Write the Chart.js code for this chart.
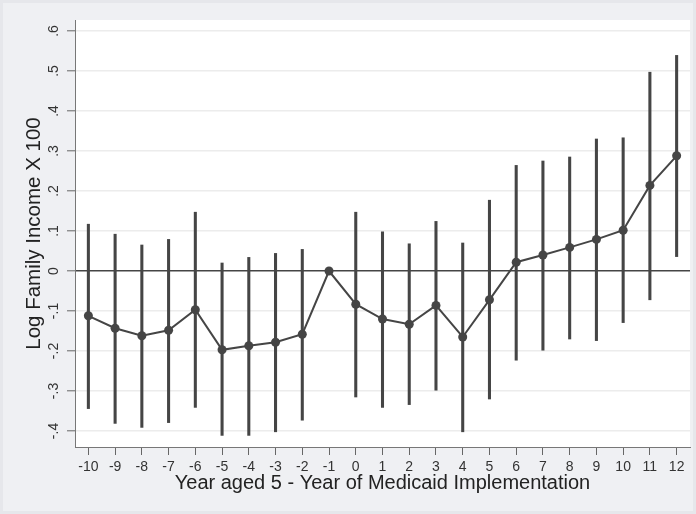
<!DOCTYPE html>
<html>
<head>
<meta charset="utf-8">
<script src="https://cdn.jsdelivr.net/npm/chart.js@4/dist/chart.umd.min.js"></script>
<style>
  html, body { margin: 0; padding: 0; background: #eff0f3; }
  canvas { display: block; }
</style>
</head>
<body>
<canvas id="chart" width="696" height="514"></canvas>
<script>
// event-study estimates
const years = [-10, -9, -8, -7, -6, -5, -4, -3, -2, -1, 0, 1, 2, 3, 4, 5, 6, 7, 8, 9, 10, 11, 12];
const estimate = [-0.112, -0.143, -0.162, -0.148, -0.097, -0.197, -0.187, -0.178, -0.158, 0,
  -0.083, -0.120, -0.133, -0.086, -0.165, -0.072, 0.022, 0.040, 0.059, 0.079, 0.102, 0.214, 0.288];
const ciHigh = [0.117, 0.092, 0.065, 0.079, 0.147, 0.020, 0.034, 0.044, 0.054, null,
  0.147, 0.098, 0.068, 0.124, 0.070, 0.177, 0.264, 0.275, 0.285, 0.330, 0.333, 0.497, 0.539];
const ciLow = [-0.344, -0.381, -0.391, -0.379, -0.341, -0.411, -0.411, -0.402, -0.373, null,
  -0.315, -0.341, -0.334, -0.298, -0.402, -0.320, -0.223, -0.198, -0.170, -0.174, -0.129, -0.072, 0.036];

const xTicks = years;
const yTicks = [-0.4, -0.3, -0.2, -0.1, 0, 0.1, 0.2, 0.3, 0.4, 0.5, 0.6];
const yTickLabels = ["-.4", "-.3", "-.2", "-.1", "0", ".1", ".2", ".3", ".4", ".5", ".6"];

const ink = '#454545';
Chart.defaults.font.family = "'Liberation Sans', Arial, sans-serif";
Chart.defaults.color = '#333';

const panel = {
  id: 'panel',
  beforeDraw(c) {
    const ctx = c.ctx, a = c.chartArea;
    ctx.save();
    ctx.fillStyle = '#eff0f3';
    ctx.fillRect(0, 0, c.width, c.height);
    ctx.strokeStyle = '#e6e7eb';
    ctx.lineWidth = 6;
    ctx.strokeRect(0, 0, c.width, c.height);
    ctx.fillStyle = '#ffffff';
    ctx.fillRect(a.left, a.top, a.right - a.left, a.bottom - a.top);
    ctx.restore();
  }
};

const bars = years.map((x, i) => ciLow[i] === null ? { x, y: null } : { x, y: [ciLow[i], ciHigh[i]] });
const points = years.map((x, i) => ({ x, y: estimate[i] }));

chart = new Chart(document.getElementById('chart'), {
  type: 'line',
  data: {
    datasets: [
      {
        type: 'bar',
        data: bars,
        backgroundColor: ink,
        borderWidth: 0,
        barThickness: 2.4,
        grouped: false,
        order: 2
      },
      {
        type: 'line',
        data: points,
        borderColor: ink,
        borderWidth: 2,
        pointRadius: 4.5,
        pointBackgroundColor: ink,
        pointBorderWidth: 0,
        tension: 0,
        order: 1
      }
    ]
  },
  options: {
    responsive: false,
    animation: false,
    layout: { padding: { left: 0, top: 20, right: 6, bottom: 0 } },
    plugins: { legend: { display: false }, tooltip: { enabled: false } },
    scales: {
      x: {
        type: 'linear',
        min: -10.5,
        max: 12.5,
        offset: false,
        afterBuildTicks: s => { s.ticks = xTicks.map(v => ({ value: v })); },
        afterFit: s => { s.height = 67; },
        grid: { drawOnChartArea: false, offset: false, tickLength: 8, tickColor: '#666', lineWidth: 1 },
        border: { display: true, color: '#777', width: 1 },
        ticks: { font: { size: 14 }, color: '#333', padding: 4, maxRotation: 0, autoSkip: false,
          callback: v => String(v) },
        title: { display: true, text: 'Year aged 5 - Year of Medicaid Implementation',
          font: { size: 20 }, color: '#222', padding: { top: 0, bottom: 19 } }
      },
      y: {
        min: -0.44,
        max: 0.6275,
        afterBuildTicks: s => { s.ticks = yTicks.map(v => ({ value: v })); },
        afterFit: s => { s.width = 75; },
        grid: {
          color: ctx => (ctx.tick && ctx.tick.value === 0) ? ink : '#ececec',
          lineWidth: 1.6,
          tickLength: 8, tickColor: '#666', tickWidth: 1
        },
        border: { display: true, color: '#777', width: 1 },
        ticks: {
          font: { size: 14 }, color: '#333', padding: 5, minRotation: 90, maxRotation: 90,
          crossAlign: 'center',
          callback: v => yTickLabels[yTicks.findIndex(t => Math.abs(t - v) < 1e-9)]
        },
        title: { display: true, text: 'Log Family Income X 100',
          font: { size: 20.5 }, color: '#222', padding: { top: 22, bottom: 0 } }
      }
    }
  },
  plugins: [panel]
});
</script>
</body>
</html>
